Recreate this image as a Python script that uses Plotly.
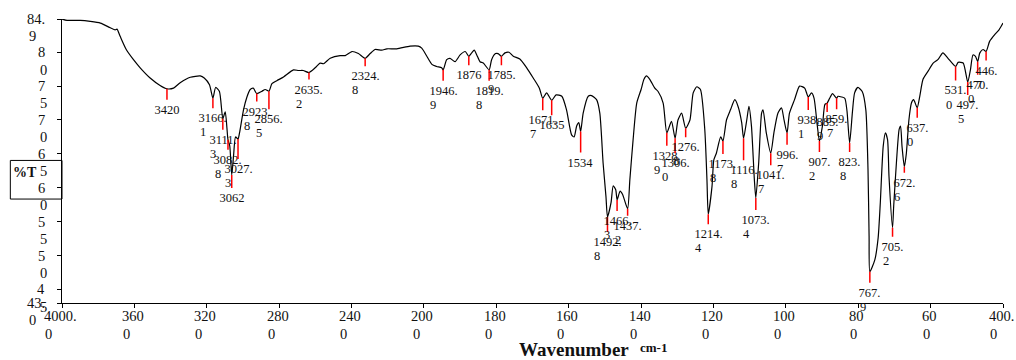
import plotly.graph_objects as go

# ---------------- data ----------------
wavenumber = [
    4000, 3972, 3899, 3844, 3788, 3733, 3706, 3696, 3678, 3645, 3605, 3568, 3513, 3458,
    3420, 3384, 3347, 3291, 3236, 3214, 3185, 3166.1, 3151, 3130, 3111.3, 3098, 3082.8,
    3073, 3062, 3052, 3041, 3027.3, 3019, 2997, 2978, 2960, 2943, 2923.8, 2895, 2877,
    2856.5, 2840, 2813, 2776, 2721, 2693, 2667, 2635.2, 2601, 2574, 2555, 2518, 2463,
    2435, 2398, 2362, 2324.8, 2297, 2270, 2233, 2205, 2150, 2077, 2031, 2012,
    1992, 1978, 1965, 1951, 1946.9, 1937, 1928, 1914, 1900, 1886, 1876, 1868, 1861,
    1854, 1845, 1836, 1819.8, 1813, 1802, 1795, 1785.9, 1776, 1765, 1753, 1735, 1716,
    1698, 1681, 1671.7, 1661, 1647, 1635, 1619, 1606, 1592, 1585, 1578, 1572, 1567,
    1560, 1546, 1537, 1523, 1514, 1505, 1497, 1492.8, 1483, 1477, 1470, 1466.3, 1458,
    1451, 1437.2, 1431, 1422, 1412, 1400, 1392, 1385, 1376, 1362, 1353, 1339, 1328.9,
    1316, 1306.0, 1298, 1288, 1276.8, 1265, 1256, 1246, 1236, 1224, 1218, 1214.4, 1204,
    1199, 1192, 1180, 1173.8, 1164, 1153, 1141, 1132, 1122, 1116.8, 1108, 1102, 1095,
    1087, 1083, 1075, 1067, 1063, 1054, 1041.7, 1033, 1022, 1012, 1005, 996.7, 990,
    976, 962, 948, 938.1, 929, 922, 914, 907.2, 899, 892, 885.9, 879, 871, 859.7, 856,
    846, 837, 831, 823.8, 816, 810, 801, 789, 779, 773, 770, 767.9, 754, 745, 739, 731,
    725, 719, 715, 705.2, 702, 694, 687, 683, 679, 672.6, 667, 660, 653, 647, 637.0,
    630, 621, 607, 593, 580, 566, 552, 531.0, 524, 510, 497.5, 490, 483, 476, 470.0,
    464, 455, 446.7, 437, 423, 411, 400,
]
transmittance = [
    84.9, 84.7, 84.7, 84.55, 84.3, 83.6, 83.3, 83.4, 82.3, 80.4, 78.9, 77.7, 76.2, 75.1,
    74.6, 74.7, 75.5, 76.3, 76.5, 76.2, 75.2, 73.2, 74.8, 74.2, 70.2, 71.2, 67.1,
    66.2, 61.9, 64.7, 67.5, 67.2, 68.1, 71.5, 73.4, 74.5, 74.7, 73.9, 74.25, 74.5,
    74.25, 75.35, 75.8, 76.35, 77.4, 77.3, 77.3, 77.0, 77.7, 78.4, 78.3, 79.1, 79.5,
    79.5, 80.1, 79.8, 79.1, 79.8, 80.4, 80.3, 80.5, 80.5, 80.9, 80.9, 80.6,
    79.4, 78.2, 77.9, 77.7, 77.4, 78.9, 79.1, 78.6, 79.6, 80.1, 79.4, 79.9, 80.3,
    79.6, 78.6, 78.4, 77.4, 78.9, 79.8, 79.8, 79.4, 79.9, 80.0, 79.4, 79.0, 77.7,
    76.2, 74.7, 73.2, 74.0, 72.9, 73.7, 73.5, 71.5, 67.8, 67.5, 69.1, 69.6, 68.3,
    71.0, 73.5, 73.6, 73.0, 71.0, 63.7, 58.7, 55.7, 57.8, 60.3, 59.7, 58.2, 59.5,
    59.0, 56.9, 61.2, 67.1, 72.5, 74.5, 76.0, 76.5, 76.0, 74.7, 74.2, 72.5, 68.1,
    69.8, 67.3, 70.0, 71.0, 68.8, 70.0, 74.0, 74.9, 74.5, 68.6, 61.2, 56.1, 60.2,
    64.1, 65.1, 67.5, 66.9, 70.0, 71.5, 73.0, 72.0, 69.6, 67.3, 70.0, 72.0, 69.1,
    61.2, 58.5, 63.7, 71.0, 71.5, 68.1, 65.1, 68.1, 71.0, 71.8, 70.0, 68.1, 71.0,
    73.0, 75.0, 74.7, 73.4, 74.0, 73.2, 69.6, 66.9, 69.1, 72.3, 72.5, 73.2, 73.9, 73.2, 73.5,
    73.4, 73.2, 71.3, 66.6, 71.2, 74.0, 74.8, 74.2, 71.5, 62.7, 52.9, 47.6, 49.4, 52.6, 57.8, 66.1,
    68.1, 67.1, 61.7, 54.1, 57.3, 64.1, 68.6, 69.1, 66.1, 63.1, 65.1, 70.0, 72.5, 73.0, 71.8,
    73.5, 76.0, 77.2, 78.4, 78.9, 79.9, 79.1, 77.9, 78.5, 78.4, 75.6, 77.4, 79.6, 79.4, 78.6,
    79.9, 80.4, 80.1, 81.6, 82.6, 83.3, 84.3,
]

peak_labels = [
    "3420", "3166.\n1", "3111.\n3", "3082.\n8", "3062", "3027.\n3", "2923.\n8", "2856.\n5",
    "2635.\n2", "2324.\n8", "1946.\n9", "1876", "1819.\n8", "1785.\n9", "1671.\n7", "1635",
    "1534", "1492.\n8", "1466.\n3", "1437.\n2", "1328.\n9", "1306.\n0", "1276.\n8", "1214.\n4",
    "1173.\n8", "1116.\n8", "1073.\n4", "1041.\n7", "996.\n7", "938.\n1", "907.\n2", "885.\n9",
    "859.\n7", "823.\n8", "767.\n9", "705.\n2", "672.\n6", "637.\n0", "531.\n0", "497.\n5",
    "470.\n0", "446.\n7",
]
peak_wavenumber = [
    3420, 3166.1, 3111.3, 3082.8, 3062, 3027.3, 2923.8, 2856.5,
    2635.2, 2324.8, 1946.9, 1876, 1819.8, 1785.9, 1671.7, 1647,
    1567, 1492.8, 1466.3, 1437.2, 1328.9, 1306.0, 1276.8, 1214.4,
    1173.8, 1116.8, 1083, 1041.7, 996.7, 938.1, 907.2, 885.9,
    859.7, 823.8, 767.9, 705.2, 672.6, 637.0, 531.0, 497.5,
    470.0, 446.7,
]
peak_transmittance = [
    74.6, 73.2, 70.2, 67.1, 61.9, 67.2, 73.9, 74.25,
    77.0, 79.1, 77.4, 79.4, 77.4, 79.4, 73.2, 72.9,
    68.3, 55.7, 58.2, 56.9, 68.1, 67.3, 68.8, 56.1,
    66.9, 67.3, 58.5, 65.1, 68.1, 73.4, 66.9, 72.5,
    73.2, 66.6, 47.6, 54.1, 63.1, 71.8, 77.9, 75.6,
    78.6, 80.1,
]

x_tick_values = [4000, 3600, 3200, 2800, 2400, 2000, 1800, 1600, 1400, 1200, 1000, 800, 600, 400]
x_tick_labels = ["4000.\n0", "360\n0", "320\n0", "280\n0", "240\n0", "200\n0", "180\n0",
                 "160\n0", "140\n0", "120\n0", "100\n0", "80\n0", "60\n0", "400.\n0"]
y_tick_values = [84.9, 80, 75, 70, 65, 60, 55, 50, 45, 43.0]
y_tick_labels = ["84.\n9", "8\n0", "7\n5", "7\n0", "6\n5", "6\n0", "5\n5", "5\n0", "4\n5", "43.\n0"]

# ---------------- layout / style settings ----------------
# length (px) of each red marker line below its peak
marker_len = [11, 10, 11, 10, 13, 20, 8, 18, 7, 8, 11, 9, 11, 9, 12, 15, 21, 15, 11, 7,
              13, 15, 9, 10, 13, 22, 12, 12, 12, 13, 11, 9, 11, 9, 11, 9, 6, 10, 14, 13, 13, 9]

FONT = "Liberation Serif, Times New Roman, serif"
PEAK_FS = 12.5
TICK_FS = 14.5
PEAK_LINE = 15.6
TICK_LINE_X = 17.7
TICK_LINE_Y = 17.3


def axis_pos(w):
    # IR scale change at 2000 cm-1 (double density below 2000)
    if w >= 2000:
        return (4000 - w) / 400.0
    return 5 + (2000 - w) / 200.0


def text_width(s, size):
    return sum(0.5 if ch.isdigit() else 0.25 for ch in s) * size


fig = go.Figure()
fig.add_trace(go.Scatter(
    x=[axis_pos(w) for w in wavenumber], y=transmittance, mode="lines",
    line=dict(color="black", width=1.2, shape="spline", smoothing=0.6),
    hoverinfo="skip", showlegend=False,
))

ann = []
# peak labels with red marker lines
for lab, w, t, L in zip(peak_labels, peak_wavenumber, peak_transmittance, marker_len):
    lines = lab.split("\n")
    xu = axis_pos(w)
    ann.append(dict(
        x=xu, y=t, xref="x", yref="y", text=lines[0], showarrow=True,
        arrowhead=0, arrowwidth=1.5, arrowcolor="#ff0000", ax=0, ay=L,
        standoff=0, startstandoff=0, xanchor="center", yanchor="top", borderpad=1.5,
        font=dict(family=FONT, size=PEAK_FS, color="#111111"),
    ))
    if len(lines) > 1:
        w1 = text_width(lines[0], PEAK_FS)
        ann.append(dict(
            x=xu, y=t, xref="x", yref="y", text=lines[1], showarrow=False,
            xanchor="left", yanchor="middle", borderpad=0,
            xshift=-w1 / 2, yshift=-(L + 1.5 + 7.0 + PEAK_LINE),
            font=dict(family=FONT, size=PEAK_FS, color="#111111"),
        ))

# x tick labels (two lines, left aligned)
for v, lab in zip(x_tick_values, x_tick_labels):
    l1, l2 = lab.split("\n")
    xu = axis_pos(v)
    w1 = text_width(l1, TICK_FS)
    ann.append(dict(x=xu, y=0, xref="x", yref="paper", text=l1, showarrow=False,
                    xanchor="center", yanchor="middle", borderpad=0, xshift=-1.5, yshift=-13.4,
                    font=dict(family=FONT, size=TICK_FS, color="#111111")))
    ann.append(dict(x=xu, y=0, xref="x", yref="paper", text=l2, showarrow=False,
                    xanchor="left", yanchor="middle", borderpad=0, xshift=-1.5 - w1 / 2,
                    yshift=-13.4 - TICK_LINE_X,
                    font=dict(family=FONT, size=TICK_FS, color="#111111")))

# y tick labels (two lines, left aligned, block right-aligned to axis)
for v, lab in zip(y_tick_values, y_tick_labels):
    l1, l2 = lab.split("\n")
    w1 = text_width(l1, TICK_FS)
    ann.append(dict(x=0, y=v, xref="paper", yref="y", text=l1, showarrow=False,
                    xanchor="right", yanchor="middle", borderpad=0, xshift=-16.2,
                    font=dict(family=FONT, size=TICK_FS, color="#111111")))
    ann.append(dict(x=0, y=v, xref="paper", yref="y", text=l2, showarrow=False,
                    xanchor="left", yanchor="middle", borderpad=0, xshift=-16.2 - w1,
                    yshift=-TICK_LINE_Y,
                    font=dict(family=FONT, size=TICK_FS, color="#111111")))

# axis titles
ann.append(dict(x=0, y=0.4588, xref="paper", yref="paper", text="<b>%T</b>", showarrow=False,
                xanchor="left", yanchor="middle", borderpad=0, xshift=-49.7,
                font=dict(family=FONT, size=14, color="#111111")))
ann.append(dict(x=0, y=0, xref="paper", yref="paper", text="<b>Wavenumber</b>", showarrow=False,
                xanchor="left", yanchor="middle", borderpad=0, xshift=456, yshift=-46.3,
                font=dict(family=FONT, size=19, color="#111111")))
ann.append(dict(x=0, y=0, xref="paper", yref="paper", text="<b>cm-1</b>", showarrow=False,
                xanchor="left", yanchor="middle", borderpad=0, xshift=577, yshift=-44.5,
                font=dict(family=FONT, size=13, color="#111111")))

fig.update_layout(
    width=1016, height=360,
    margin=dict(l=62, r=13, t=19, b=57),
    paper_bgcolor="white", plot_bgcolor="white",
    annotations=ann,
    shapes=[dict(type="rect", xref="paper", yref="paper", x0=-0.0549, x1=0.0,
                 y0=0.366, y1=0.502, line=dict(color="black", width=1), fillcolor="rgba(0,0,0,0)")],
    xaxis=dict(range=[0, 13], tickvals=[axis_pos(v) for v in x_tick_values],
               showticklabels=False, ticks="outside", ticklen=4, tickcolor="black",
               showline=True, linecolor="black", linewidth=1, showgrid=False, zeroline=False),
    yaxis=dict(range=[43.0, 84.9], tickvals=y_tick_values, showticklabels=False,
               ticks="outside", ticklen=4, tickcolor="black",
               showline=True, linecolor="black", linewidth=1, showgrid=False, zeroline=False),
)

fig.write_html("out.html")
